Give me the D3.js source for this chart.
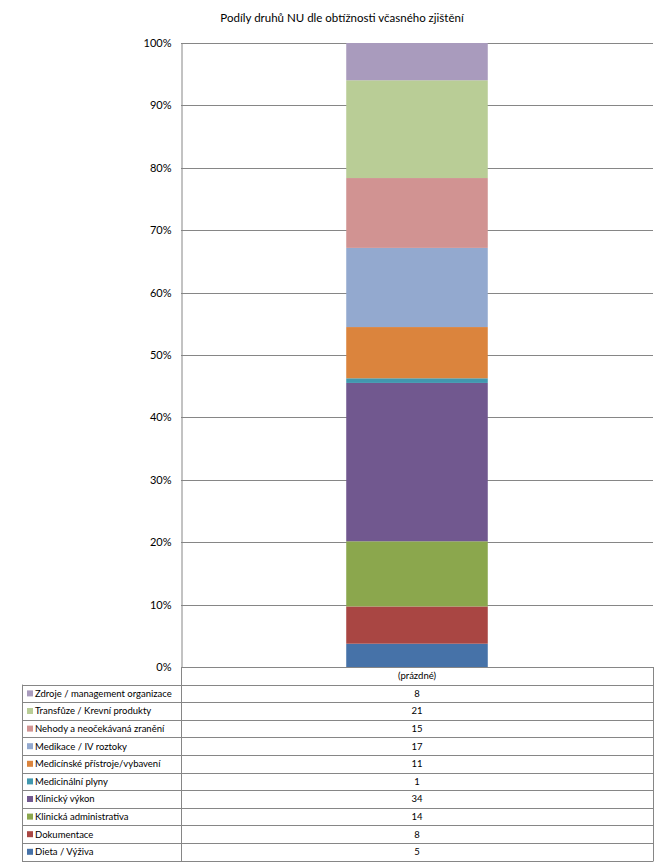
<!DOCTYPE html>
<html>
<head>
<meta charset="utf-8">
<script src="https://cdnjs.cloudflare.com/ajax/libs/d3/7.8.5/d3.min.js"></script>
<style>
body { margin: 0; background: #fff; }
svg { display: block; font-family: Lato, "Open Sans", sans-serif; }
</style>
</head>
<body>
<div id="chart"></div>
<script>
// chart size (the browser window)
var w = 667;
var h = 866;

var categories = ["(prázdné)"];
// stacking order, bottom to top
var seriesNames = [
	"Dieta / Výživa",
	"Dokumentace",
	"Klinická administrativa",
	"Klinický výkon",
	"Medicinální plyny",
	"Medicínské přístroje/vybavení",
	"Medikace / IV roztoky",
	"Nehody a neočekávaná zranění",
	"Transfůze / Krevní produkty",
	"Zdroje / management organizace"
];
var seriesValues = [5, 8, 14, 34, 1, 11, 17, 15, 21, 8];
var seriesColors = ["#4672a8", "#a94643", "#8ba74d", "#71588f", "#4198af",
	"#db843d", "#93a9cf", "#d19392", "#b9cd96", "#a99bbd"];
var yTicks = [0, 0.1, 0.2, 0.3, 0.4, 0.5, 0.6, 0.7, 0.8, 0.9, 1];

var plot = {left: 181, right: 653, top: 43, bottom: 667};
var table = {left: 22, split: 181, rowH: 17.6};

var svg = d3.select('#chart').append('svg')
	.attr('width', w)
	.attr('height', h);

svg.append('text')
	.attr('x', 342)
	.attr('y', 22)
	.attr('text-anchor', 'middle')
	.style('font-size', '11.5px')
	.style('fill', '#000')
	.text('Podíly druhů NU  dle obtížnosti včasného zjištění');

var x = d3.scaleBand()
	.domain(categories)
	.range([plot.left, plot.right])
	.paddingInner(0.6)
	.paddingOuter(0.467);

var y = d3.scaleLinear()
	.domain([0, 1])
	.range([plot.bottom, plot.top]);

// gridlines
svg.append('g')
	.selectAll('line')
	.data(yTicks)
	.enter().append('line')
	.attr('x1', plot.left)
	.attr('x2', plot.right)
	.attr('y1', function(d) { return Math.round(y(d)) + 0.5; })
	.attr('y2', function(d) { return Math.round(y(d)) + 0.5; })
	.attr('stroke', '#868686')
	.attr('stroke-width', 1);

// y axis
var yAxis = d3.axisLeft(y)
	.tickValues(yTicks)
	.tickFormat(d3.format('.0%'))
	.tickSize(0)
	.tickPadding(10);

var gy = svg.append('g')
	.attr('transform', 'translate(' + (plot.left + 0.5) + ',0)')
	.call(yAxis);
gy.select('.domain').attr('stroke', '#868686');
gy.selectAll('text')
	.style('font-family', 'Lato, "Open Sans", sans-serif')
	.style('font-size', '11px')
	.style('fill', '#000');

// stacked 100% bar
var total = d3.sum(seriesValues);
var stackData = [{}];
seriesNames.forEach(function(n, i) { stackData[0][n] = seriesValues[i] / total; });
var stacked = d3.stack().keys(seriesNames)(stackData);

svg.append('g')
	.selectAll('rect')
	.data(stacked)
	.enter().append('rect')
	.attr('x', x(categories[0]))
	.attr('width', x.bandwidth())
	.attr('y', function(d) { return y(d[0][1]); })
	.attr('height', function(d) { return y(d[0][0]) - y(d[0][1]); })
	.attr('fill', function(d, i) { return seriesColors[i]; });

// data table (top to bottom: reverse of stacking order)
var rows = seriesNames.map(function(n, i) {
	return {name: n, value: seriesValues[i], color: seriesColors[i]};
}).reverse();

var tTop = plot.bottom;
var tBottom = tTop + table.rowH * (rows.length + 1);
var g = svg.append('g').attr('class', 'datatable');

// horizontal lines
d3.range(rows.length + 2).forEach(function(k) {
	var yy = Math.round(tTop + k * table.rowH) + 0.5;
	g.append('line')
		.attr('x1', k === 0 ? table.split : table.left)
		.attr('x2', plot.right)
		.attr('y1', yy).attr('y2', yy)
		.attr('stroke', '#868686');
});
// vertical lines
[[table.left, tTop + table.rowH], [table.split, tTop], [plot.right, tTop]].forEach(function(v) {
	g.append('line')
		.attr('x1', v[0] + 0.5).attr('x2', v[0] + 0.5)
		.attr('y1', v[1]).attr('y2', Math.round(tBottom) + 0.5)
		.attr('stroke', '#868686');
});

g.append('text')
	.attr('x', (table.split + plot.right) / 2)
	.attr('y', tTop + table.rowH / 2 + 3.5)
	.attr('text-anchor', 'middle')
	.style('font-size', '9.5px')
	.text(categories[0]);

var rowG = g.selectAll('g.row')
	.data(rows)
	.enter().append('g')
	.attr('class', 'row')
	.attr('transform', function(d, i) {
		return 'translate(0,' + (tTop + table.rowH * (i + 1)) + ')';
	});

rowG.append('rect')
	.attr('x', table.left + 5)
	.attr('y', table.rowH / 2 - 3)
	.attr('width', 6)
	.attr('height', 6)
	.attr('fill', function(d) { return d.color; });

rowG.append('text')
	.attr('x', table.left + 13)
	.attr('y', table.rowH / 2 + 3.5)
	.style('font-size', '9.5px')
	.text(function(d) { return d.name; });

rowG.append('text')
	.attr('x', (table.split + plot.right) / 2)
	.attr('y', table.rowH / 2 + 3.5)
	.attr('text-anchor', 'middle')
	.style('font-size', '9.5px')
	.text(function(d) { return d.value; });
</script>
</body>
</html>
